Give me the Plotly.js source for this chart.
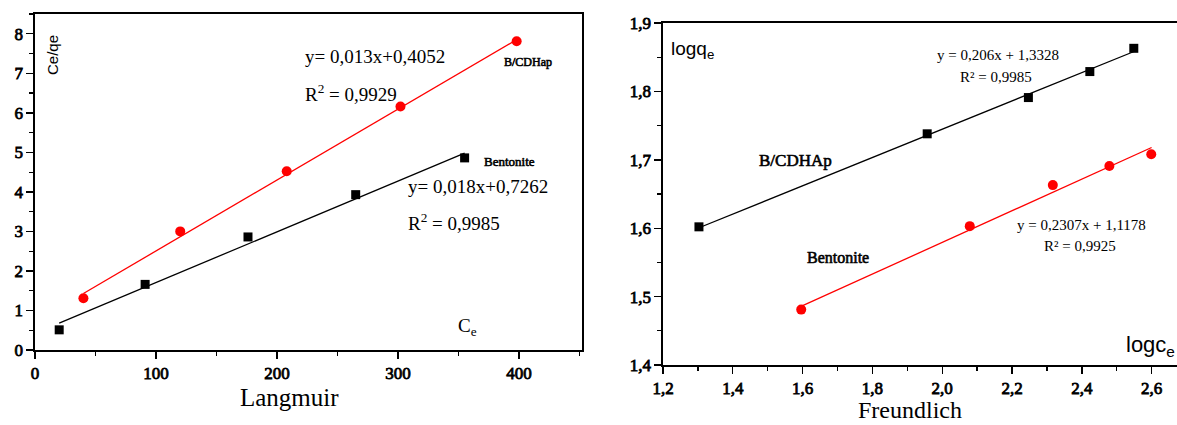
<!DOCTYPE html>
<html>
<head>
<meta charset="utf-8">
<script src="https://cdn.plot.ly/plotly-3.0.1.min.js"></script>
<style>html,body{margin:0;padding:0;background:#fff;}#chart{width:1177px;height:425px;}</style>
</head>
<body>
<div id="chart"></div>
<script>
// ---- Langmuir data ----
const langX_bent = [20, 91, 176, 265, 355];
const langY_bent = [0.51, 1.66, 2.86, 3.93, 4.86];
const langX_bcd = [40, 120, 208, 302, 398];
const langY_bcd = [1.31, 3.0, 4.52, 6.16, 7.81];
const langFitX_bent = [20, 355];
const langFitY_bent = [0.68, 4.98];
const langFitX_bcd = [40, 398];
const langFitY_bcd = [1.43, 7.85];
const langXTicks = [0, 100, 200, 300, 400];
const langYTicks = [0, 1, 2, 3, 4, 5, 6, 7, 8];

// ---- Freundlich data ----
const frX_bcd = [1.303, 1.957, 2.247, 2.423, 2.549];
const frY_bcd = [1.602, 1.738, 1.791, 1.829, 1.863];
const frX_bent = [1.596, 2.079, 2.317, 2.479, 2.599];
const frY_bent = [1.481, 1.603, 1.663, 1.691, 1.708];
const frFitX_bcd = [1.305, 2.548];
const frFitY_bcd = [1.601, 1.858];
const frFitX_bent = [1.597, 2.6];
const frFitY_bent = [1.486, 1.718];
const frXTicks = [1.2, 1.4, 1.6, 1.8, 2.0, 2.2, 2.4, 2.6];
const frYTicks = [1.4, 1.5, 1.6, 1.7, 1.8, 1.9];

const W = 1177, H = 425;
const px = x => x / W;
const py = y => 1 - y / H;

const SERIF = 'Liberation Serif';
const SANS = 'Liberation Sans';
const RED = '#ff0000';

const traces = [
  {x: langFitX_bent, y: langFitY_bent, mode: 'lines', line: {color: '#000', width: 1.3}, xaxis: 'x', yaxis: 'y', hoverinfo: 'skip'},
  {x: langFitX_bcd, y: langFitY_bcd, mode: 'lines', line: {color: RED, width: 1.3}, xaxis: 'x', yaxis: 'y', hoverinfo: 'skip'},
  {x: langX_bent, y: langY_bent, mode: 'markers', marker: {symbol: 'square', size: 9, color: '#000'}, xaxis: 'x', yaxis: 'y', name: 'Bentonite'},
  {x: langX_bcd, y: langY_bcd, mode: 'markers', marker: {symbol: 'circle', size: 10, color: RED}, xaxis: 'x', yaxis: 'y', name: 'B/CDHap'},
  {x: frFitX_bcd, y: frFitY_bcd, mode: 'lines', line: {color: '#000', width: 1.3}, xaxis: 'x2', yaxis: 'y2', hoverinfo: 'skip'},
  {x: frFitX_bent, y: frFitY_bent, mode: 'lines', line: {color: RED, width: 1.3}, xaxis: 'x2', yaxis: 'y2', hoverinfo: 'skip'},
  {x: frX_bcd, y: frY_bcd, mode: 'markers', marker: {symbol: 'square', size: 9, color: '#000'}, xaxis: 'x2', yaxis: 'y2', name: 'B/CDHAp'},
  {x: frX_bent, y: frY_bent, mode: 'markers', marker: {symbol: 'circle', size: 10, color: RED}, xaxis: 'x2', yaxis: 'y2', name: 'Bentonite'}
];

const comma = v => v.toFixed(1).replace('.', ',');
function axis(extra) {
  return Object.assign({
    showgrid: false, zeroline: false, showline: true, linecolor: '#000', linewidth: 1.6,
    ticks: 'outside', ticklen: 7, tickwidth: 1.4, tickcolor: '#000',
    tickfont: {family: SERIF, size: 17, color: '#000'}
  }, extra);
}

function ann(text, x, y, opts) {
  return Object.assign({text: text, x: px(x), y: py(y), xref: 'paper', yref: 'paper',
    showarrow: false, xanchor: 'left', yanchor: 'middle'}, opts || {});
}
const serif = s => ({family: SERIF, size: s, color: '#000'});
const sans = s => ({family: SANS, size: s, color: '#000'});

const annotations = [
  // Langmuir panel
  ann('Ce/qe', 53, 55, {textangle: -90, xanchor: 'center', font: sans(15)}),
  ann('y= 0,013x+0,4052', 303, 56, {font: serif(19)}),
  ann('R<sup>2</sup> = 0,9929', 303, 93, {font: serif(19)}),
  ann('B/CDHap', 502, 62, {font: serif(12)}),
  ann('Bentonite', 482, 162, {font: serif(13)}),
  ann('y= 0,018x+0,7262', 406, 187, {font: serif(19)}),
  ann('R<sup>2</sup> = 0,9985', 406, 222, {font: serif(19)}),
  ann('C<sub>e</sub>', 456, 327, {font: serif(19)}),
  ann('Langmuir', 289, 397, {xanchor: 'center', font: serif(25)}),
  // Freundlich panel
  ann('logq<sub>e</sub>', 669, 50, {font: sans(19)}),
  ann('B/CDHAp', 757, 160, {font: serif(17)}),
  ann('y = 0,206x + 1,3328', 935, 55, {font: serif(15)}),
  ann('R² = 0,9985', 958, 77, {font: serif(15)}),
  ann('Bentonite', 805, 257, {font: serif(16)}),
  ann('y = 0,2307x + 1,1178', 1015, 225, {font: serif(15)}),
  ann('R² = 0,9925', 1042, 246, {font: serif(15)}),
  ann('logc<sub>e</sub>', 1124, 346, {font: sans(22)}),
  ann('Freundlich', 910, 410, {xanchor: 'center', font: serif(24)})
];
const boldAnn = [3, 4, 10, 13];

const layout = {
  width: W, height: H,
  margin: {l: 0, r: 0, t: 0, b: 0},
  font: {family: SERIF, size: 17, color: '#000'},
  paper_bgcolor: '#fff', plot_bgcolor: '#fff',
  showlegend: false,
  xaxis: axis({domain: [px(35), px(582)], range: [0, 452], tickvals: langXTicks,
    ticktext: langXTicks.map(String), mirror: true, anchor: 'y',
    minor: {dtick: 50, tick0: 0, ticks: 'outside', ticklen: 4, tickwidth: 1.2, tickcolor: '#000'}}),
  yaxis: axis({domain: [py(350), py(14)], range: [0, 8.5], tickvals: langYTicks,
    ticktext: langYTicks.map(String), mirror: true, anchor: 'x',
    minor: {dtick: 0.5, tick0: 0, ticks: 'outside', ticklen: 4, tickwidth: 1.2, tickcolor: '#000'}}),
  xaxis2: axis({domain: [px(663), 1], range: [1.2, 1.2 + 514 / 349], tickvals: frXTicks,
    ticktext: frXTicks.map(comma), mirror: true, anchor: 'y2',
    minor: {dtick: 0.1, tick0: 1.2, ticks: 'outside', ticklen: 4, tickwidth: 1.2, tickcolor: '#000'}}),
  yaxis2: axis({domain: [py(365), py(23)], range: [1.4, 1.9], tickvals: frYTicks,
    ticktext: frYTicks.map(comma), mirror: false, anchor: 'x2',
    minor: {dtick: 0.05, tick0: 1.4, ticks: 'outside', ticklen: 4, tickwidth: 1.2, tickcolor: '#000'}}),
  annotations: annotations
};

function embolden(gd) {
  // Bold serif face is emulated with a thin outline on the regular serif face
  gd.querySelectorAll('.xtick text, .ytick text, .x2tick text, .y2tick text').forEach(t => {
    t.style.stroke = '#000'; t.style.strokeWidth = '0.8px';
  });
  gd.querySelectorAll('.annotation').forEach(a => {
    const idx = +a.getAttribute('data-index');
    if (boldAnn.indexOf(idx) >= 0) {
      a.querySelectorAll('text').forEach(t => { t.style.stroke = '#000'; t.style.strokeWidth = '0.6px'; });
    }
  });
}

Plotly.newPlot('chart', traces, layout, {displayModeBar: false, staticPlot: true}).then(embolden);
</script>
</body>
</html>
